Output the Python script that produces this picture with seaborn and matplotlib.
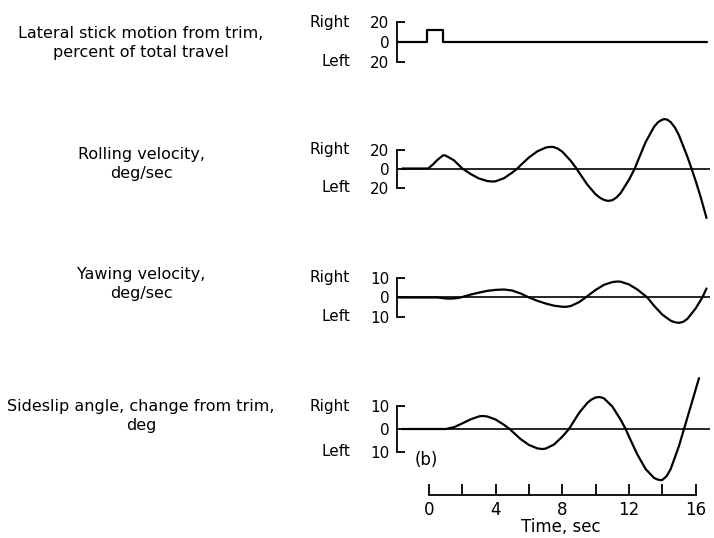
import matplotlib
matplotlib.use("Agg")
import matplotlib.pyplot as plt
import pandas as pd
import seaborn as sns
from matplotlib.transforms import blended_transform_factory

sns.set_style("white")
plt.rcParams["font.family"] = ["DejaVu Sans"]
plt.rcParams["text.color"] = "black"

# ---- time histories (time in sec) ----
stick_t = [-1.9, -0.1, -0.1, 0.85, 0.85, 16.7]
stick_v = [0, 0, 12, 12, 0, 0]

roll_t = [-1.6, -0.05, 0.25, 0.5, 0.85, 1.0, 1.5, 2.0, 2.5, 3.0, 3.5, 3.8, 4.0, 4.5,
          5.0, 5.3, 5.5, 6.0, 6.5, 7.0, 7.2, 7.35, 7.5, 7.75, 8.0, 8.5, 8.85, 9.0, 9.5,
          10.0, 10.25, 10.5, 10.65, 10.8, 11.0, 11.25, 11.5, 12.0, 12.35, 12.5, 13.0,
          13.5, 13.75, 14.0, 14.15, 14.3, 14.5, 14.75, 15.0, 15.5, 15.75, 16.0, 16.3,
          16.65]
roll_v = [0, 0, 4.5, 9, 14, 13.6, 8.6, 0, -5.8, -10.5, -13.2, -13.7, -13.4, -10.2,
          -4.2, 0, 3.5, 11.7, 18.1, 22, 22.6, 22.8, 22.5, 20.7, 17.7, 8.2, 0, -4.1, -17,
          -27.2, -30.7, -33, -33.8, -34, -33.3, -30.5, -25.8, -11.8, 0, 6.8, 27.9,
          43.8, 48.9, 51.5, 52, 51.4, 48.9, 43.2, 34.9, 12.6, 0, -13, -30,
          -52]

yaw_t = [-1.8, 0.5, 0.9, 1.25, 1.6, 1.9, 2.5, 3.0, 3.5, 4.0, 4.5, 5.0, 5.5, 6.0,
         6.5, 7.0, 7.5, 8.0, 8.2, 8.5, 9.0, 9.4, 9.5, 10.0, 10.5, 11.0, 11.3, 11.5,
         12.0, 12.5, 13.0, 13.1, 13.5, 14.0, 14.5, 14.75, 15.0, 15.25, 15.5, 16.0,
         16.4, 16.65]
yaw_v = [0, 0, -0.4, -0.6, -0.4, 0, 1.5, 2.5, 3.4, 3.9, 4.1, 3.55, 2.05, 0,
         -1.7, -3.1, -4.2, -4.75, -4.8, -4.4, -2.4, 0, 0.7, 3.9, 6.5, 7.9, 8.2, 8.1,
         6.7, 4.1, 0.7, 0, -4.2, -8.8, -11.9, -12.7, -13, -12.5, -11, -5.6,
         0, 4.6]

slip_t = [-1.6, 1.0, 1.5, 2.0, 2.5, 3.0, 3.2, 3.5, 4.0, 4.5, 4.84, 5.0, 5.5, 6.0,
          6.5, 6.8, 7.0, 7.5, 8.0, 8.4, 8.5, 9.0, 9.5, 9.75, 10.0, 10.2, 10.35, 10.5,
          11.0, 11.5, 11.8, 12.0, 12.5, 13.0, 13.5, 13.7, 13.9, 14.0, 14.25, 14.5,
          15.0, 15.3, 15.7, 16.2]
slip_v = [0, 0, 0.8, 2.5, 4.3, 5.6, 5.8, 5.55, 4.2, 1.85, 0, -1.1, -4.5, -7.1,
          -8.6, -8.9, -8.7, -6.9, -3.4, 0, 1.2, 7.1, 11.6, 13.1, 14.0, 14.2, 14.0, 13.6,
          10.0, 4.1, 0, -3.4, -11.3, -17.8, -21.7, -22.4, -22.7, -22.6, -21, -17.8,
          -7.5, 0, 10, 22.6]

labels = ["Lateral stick motion from trim,\npercent of total travel",
          "Rolling velocity,\ndeg/sec",
          "Yawing velocity,\ndeg/sec",
          "Sideslip angle, change from trim,\ndeg"]
scale_ticks = [20, 20, 10, 10]
time_ticks = [0, 4, 8, 12, 16]
time_minor = [2, 6, 10, 14]

W, H = 714, 538
fig = plt.figure(figsize=(W / 100, H / 100), dpi=100)
fig.patch.set_facecolor("white")

XLIM = (-1.92, 17.1)


def px_axes(top, bottom, left=397, right=714):
    return fig.add_axes([left / W, 1 - bottom / H, (right - left) / W, (bottom - top) / H])


panels = [
    dict(box=(12, 72), ylim=(-30, 30), t=stick_t, v=stick_v, zero=False),
    dict(box=(108, 228), ylim=(-62.6, 63.7), t=roll_t, v=roll_v, zero=True),
    dict(box=(262, 332), ylim=(-17.7, 18.2), t=yaw_t, v=yaw_v, zero=True),
    dict(box=(370, 495), ylim=(-29.3, 26.2), t=slip_t, v=slip_v, zero=True),
]
label_mid = [43, 164, 284, 416]

axes = []
for i, p in enumerate(panels):
    ax = px_axes(*p["box"])
    ax.set_facecolor("none")
    df = pd.DataFrame({"time": p["t"], "value": p["v"]})
    if p["zero"]:
        ax.hlines(0, -1.6, 16.85, color="black", lw=1.2)
    sns.lineplot(data=df, x="time", y="value", ax=ax, color="black", lw=1.6,
                 estimator=None, sort=False)
    ax.set_xlim(*XLIM)
    ax.set_ylim(*p["ylim"])
    ax.set_xlabel("")
    ax.set_ylabel("")
    s = scale_ticks[i]
    for side in ("top", "right", "bottom"):
        ax.spines[side].set_visible(False)
    ax.spines["left"].set_bounds(-s, s)
    ax.spines["left"].set_linewidth(1.3)
    ax.spines["left"].set_color("black")
    ax.set_yticks([-s, 0, s])
    ax.set_yticklabels([str(s), "0", str(s)])
    ax.tick_params(axis="y", direction="in", length=6, width=1.3, pad=5.5,
                   labelsize=11, colors="black", left=True)
    ax.set_xticks([])

    tr = blended_transform_factory(fig.transFigure, ax.transData)
    ax.text(350 / W, s, "Right", transform=tr, ha="right", va="center", fontsize=11,
            color="black")
    ax.text(350 / W, -s, "Left", transform=tr, ha="right", va="center", fontsize=11,
            color="black")

    fig.text(141 / W, 1 - label_mid[i] / H, labels[i], ha="center", va="center",
             fontsize=11.5, linespacing=1.4, color="black")
    axes.append(ax)

# time scale under the last trace
ax = axes[-1]
ax.spines["bottom"].set_visible(True)
ax.spines["bottom"].set_bounds(0, 16)
ax.spines["bottom"].set_linewidth(1.3)
ax.spines["bottom"].set_color("black")
ax.set_xticks(time_ticks)
ax.set_xticklabels([str(t) for t in time_ticks])
ax.set_xticks(time_minor, minor=True)
ax.tick_params(axis="x", which="both", direction="in", length=8, width=1.3,
               pad=4, labelsize=12, colors="black", bottom=True)

fig.text(561 / W, 1 - 527 / H, "Time, sec", ha="center", va="center", fontsize=12,
         color="black")
fig.text(415 / W, 1 - 460 / H, "(b)", ha="left", va="center", fontsize=12,
         color="black")

fig.savefig("out.png", dpi=100, facecolor="white")
